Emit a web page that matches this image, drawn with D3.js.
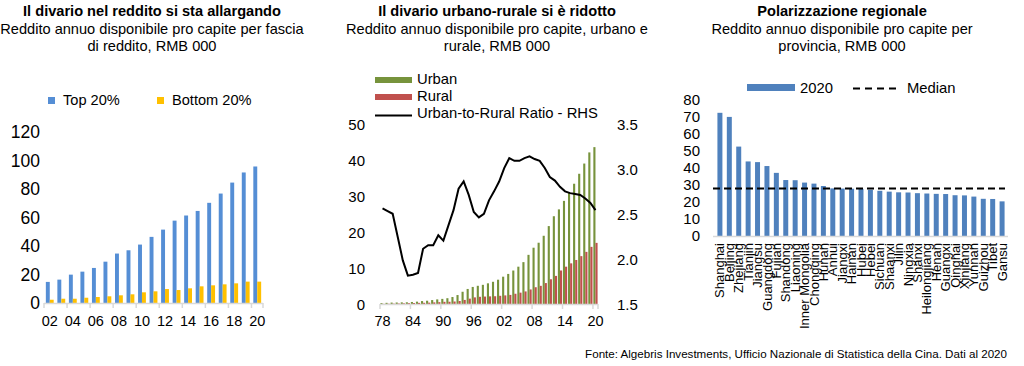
<!DOCTYPE html>
<html>
<head>
<meta charset="utf-8">
<script src="https://cdn.jsdelivr.net/npm/d3@7"></script>
<style>
  body { margin: 0; background: #fff; }
  text { font-family: Arial, "Liberation Sans", sans-serif; fill: #000; }
</style>
</head>
<body>
<svg id="chart" width="1024" height="366"></svg>
<script>
// ---- data: income by quintile (RMB 000) ----
const quintileYears = ['2002', '2003', '2004', '2005', '2006', '2007', '2008', '2009', '2010', '2011',
    '2012', '2013', '2014', '2015', '2016', '2017', '2018', '2019', '2020'];
const top20 = [14.8, 16.4, 19.9, 22.0, 24.6, 29.0, 34.7, 37.0, 41.0, 46.4,
    51.5, 57.8, 61.4, 64.6, 70.3, 76.8, 84.5, 91.6, 95.8];
const bottom20 = [2.3, 3.0, 3.0, 3.7, 4.2, 4.7, 5.4, 6.1, 7.5, 8.2,
    9.8, 9.1, 10.3, 11.7, 12.4, 13.1, 13.8, 15.0, 15.0];
const quintileTicks = [0, 20, 40, 60, 80, 100, 120];

// ---- data: urban vs rural (RMB 000) and ratio ----
const urYears = ['1978', '1979', '1980', '1981', '1982', '1983', '1984', '1985', '1986', '1987',
    '1988', '1989', '1990', '1991', '1992', '1993', '1994', '1995', '1996', '1997',
    '1998', '1999', '2000', '2001', '2002', '2003', '2004', '2005', '2006', '2007',
    '2008', '2009', '2010', '2011', '2012', '2013', '2014', '2015', '2016', '2017',
    '2018', '2019', '2020'];
const urban = [0.34, 0.41, 0.48, 0.50, 0.54, 0.56, 0.65, 0.74, 0.90, 1.00,
    1.18, 1.37, 1.51, 1.70, 2.03, 2.58, 3.50, 4.28, 4.84, 5.16,
    5.43, 5.85, 6.28, 6.86, 7.70, 8.47, 9.42, 10.49, 11.76, 13.79,
    15.78, 17.17, 19.11, 21.81, 24.56, 26.47, 28.84, 31.19, 33.62, 36.40,
    39.25, 42.36, 43.83];
const rural = [0.13, 0.16, 0.19, 0.22, 0.27, 0.31, 0.36, 0.40, 0.42, 0.46,
    0.54, 0.60, 0.69, 0.71, 0.78, 0.92, 1.22, 1.58, 1.93, 2.09,
    2.16, 2.21, 2.25, 2.37, 2.48, 2.62, 2.94, 3.25, 3.59, 4.14,
    4.76, 5.15, 5.92, 6.98, 7.92, 9.43, 10.49, 11.42, 12.36, 13.43,
    14.62, 16.02, 17.13];
const ratio = [2.57, 2.54, 2.51, 2.25, 1.99, 1.82, 1.83, 1.85, 2.12, 2.16,
    2.16, 2.27, 2.21, 2.38, 2.55, 2.79, 2.87, 2.72, 2.53, 2.47,
    2.51, 2.66, 2.76, 2.87, 3.02, 3.13, 3.10, 3.10, 3.13, 3.15,
    3.12, 3.10, 3.02, 2.92, 2.88, 2.81, 2.76, 2.74, 2.73, 2.72,
    2.68, 2.63, 2.55];
const urLeftTicks = [0, 10, 20, 30, 40, 50];
const urRightTicks = [1.5, 2.0, 2.5, 3.0, 3.5];

// ---- data: provinces 2020 (RMB 000) ----
const provinces = ['Shanghai', 'Beijing', 'Zhejiang', 'Tianjin', 'Jiangsu', 'Guangdong', 'Fujian',
    'Shandong', 'Liaoning', 'Inner Mongolia', 'Chongqing', 'Hunan', 'Anhui', 'Jiangxi', 'Hainan',
    'Hubei', 'Hebei', 'Sichuan', 'Shaanxi', 'Jilin', 'Ningxia', 'Shanxi', 'Heilongjiang', 'Henan',
    'Guangxi', 'Qinghai', 'Xinjiang', 'Yunnan', 'Guizhou', 'Tibet', 'Gansu'];
const provIncome = [72.2, 69.8, 52.4, 43.7, 43.3, 41.0, 37.0, 32.8, 32.7, 31.3, 30.7, 29.3, 27.9,
    27.8, 27.7, 27.6, 27.1, 26.5, 26.0, 25.6, 25.5, 25.1, 24.9, 24.7, 24.6, 23.9, 23.8, 23.1,
    21.8, 21.7, 20.3];
const provMedian = 27.9;
const provTicks = [0, 10, 20, 30, 40, 50, 60, 70, 80];

const svg = d3.select('#chart');
const axisGrey = '#d9d9d9';

function title(cx, lines) {
    svg.append('text').attr('x', cx).attr('y', 16).attr('text-anchor', 'middle')
        .attr('font-size', '14.6px').attr('font-weight', 'bold').text(lines[0]);
    lines.slice(1).forEach(function (l, i) {
        svg.append('text').attr('x', cx).attr('y', 34 + i * 17).attr('text-anchor', 'middle')
            .attr('font-size', '14.6px').text(l);
    });
}

// =============== chart 1 ===============
title(152, ['Il divario nel reddito si sta allargando',
    'Reddito annuo disponibile pro capite per fascia', 'di reddito, RMB 000']);

const x1 = d3.scaleBand().domain(quintileYears).range([44, 263]);
const x1s = d3.scaleBand().domain(['top', 'bottom']).range([0, x1.bandwidth()]).paddingOuter(0.47);
const y1 = d3.scaleLinear().domain([0, 120]).range([303, 132]);

const g1 = svg.append('g');
g1.selectAll('.top').data(quintileYears).enter().append('rect')
    .attr('x', (d) => x1(d) + x1s('top'))
    .attr('y', (d, i) => y1(top20[i]))
    .attr('width', x1s.bandwidth())
    .attr('height', (d, i) => y1(0) - y1(top20[i]))
    .attr('fill', '#558ed5');
g1.selectAll('.bot').data(quintileYears).enter().append('rect')
    .attr('x', (d) => x1(d) + x1s('bottom'))
    .attr('y', (d, i) => y1(bottom20[i]))
    .attr('width', x1s.bandwidth())
    .attr('height', (d, i) => y1(0) - y1(bottom20[i]))
    .attr('fill', '#ffc000');

const ya1 = g1.append('g').attr('transform', 'translate(42,0)')
    .call(d3.axisLeft(y1).tickValues(quintileTicks).tickSize(0).tickPadding(2));
ya1.select('.domain').remove();
ya1.selectAll('text').attr('font-size', '17.5px').attr('font-family', null);

// x axis
g1.append('line').attr('x1', 44).attr('x2', 263).attr('y1', 303.5).attr('y2', 303.5)
    .attr('stroke', axisGrey).attr('stroke-width', 1.5);
const x1Edges = quintileYears.filter((d, i) => i % 2 === 0).map((d) => x1(d)).concat([263]);
g1.selectAll('.tk').data(x1Edges).enter().append('line')
    .attr('x1', (d) => d).attr('x2', (d) => d).attr('y1', 303).attr('y2', 308)
    .attr('stroke', axisGrey).attr('stroke-width', 1.5);
g1.selectAll('.xl').data(quintileYears.filter((d, i) => i % 2 === 0)).enter().append('text')
    .attr('x', (d) => x1(d) + x1.bandwidth() / 2).attr('y', 326)
    .attr('text-anchor', 'middle').attr('font-size', '14.5px')
    .text((d) => d.slice(2));

// legend
g1.append('rect').attr('x', 48).attr('y', 97).attr('width', 7).attr('height', 7).attr('fill', '#558ed5');
g1.append('text').attr('x', 63).attr('y', 105).attr('font-size', '14.6px').text('Top 20%');
g1.append('rect').attr('x', 157).attr('y', 97).attr('width', 7).attr('height', 7).attr('fill', '#ffc000');
g1.append('text').attr('x', 172).attr('y', 105).attr('font-size', '14.6px').text('Bottom 20%');

// =============== chart 2 ===============
title(497, ['Il divario urbano-rurale si è ridotto',
    'Reddito annuo disponibile pro capite, urbano e', 'rurale, RMB 000']);

const x2 = d3.scaleBand().domain(urYears).range([380, 598]);
const x2s = d3.scaleBand().domain(['u', 'r']).range([0, x2.bandwidth()]).paddingOuter(0.2);
const y2 = d3.scaleLinear().domain([0, 50]).range([304.3, 125]);
const y2r = d3.scaleLinear().domain([1.5, 3.5]).range([304.3, 125]);

const g2 = svg.append('g');
g2.selectAll('.u').data(urYears).enter().append('rect')
    .attr('x', (d) => x2(d) + x2s('u'))
    .attr('y', (d, i) => y2(urban[i]))
    .attr('width', x2s.bandwidth())
    .attr('height', (d, i) => y2(0) - y2(urban[i]))
    .attr('fill', '#77933c');
g2.selectAll('.r').data(urYears).enter().append('rect')
    .attr('x', (d) => x2(d) + x2s('r'))
    .attr('y', (d, i) => y2(rural[i]))
    .attr('width', x2s.bandwidth())
    .attr('height', (d, i) => y2(0) - y2(rural[i]))
    .attr('fill', '#c0504d');

g2.append('line').attr('x1', 380).attr('x2', 598).attr('y1', 304.5).attr('y2', 304.5)
    .attr('stroke', axisGrey).attr('stroke-width', 1.5);
const x2Labels = urYears.filter((d, i) => i % 6 === 0);
g2.selectAll('.tk').data(x2Labels.map((d) => x2(d)).concat([598])).enter().append('line')
    .attr('x1', (d) => d).attr('x2', (d) => d).attr('y1', 304).attr('y2', 309)
    .attr('stroke', axisGrey).attr('stroke-width', 1.5);
g2.selectAll('.xl').data(x2Labels).enter().append('text')
    .attr('x', (d) => x2(d) + x2.bandwidth() / 2).attr('y', 326)
    .attr('text-anchor', 'middle').attr('font-size', '14.5px')
    .text((d) => d.slice(2));

const ratioLine = d3.line()
    .x((d, i) => x2(urYears[i]) + x2.bandwidth() / 2)
    .y((d) => y2r(d));
g2.append('path').datum(ratio).attr('d', ratioLine)
    .attr('fill', 'none').attr('stroke', '#000').attr('stroke-width', 2);

const ya2 = g2.append('g').attr('transform', 'translate(367,0)')
    .call(d3.axisLeft(y2).tickValues(urLeftTicks).tickSize(0).tickPadding(2));
ya2.select('.domain').remove();
ya2.selectAll('text').attr('font-size', '15px').attr('font-family', null);
const yr2 = g2.append('g').attr('transform', 'translate(615,0)')
    .call(d3.axisRight(y2r).tickValues(urRightTicks).tickSize(0).tickPadding(2).tickFormat(d3.format('.1f')));
yr2.select('.domain').remove();
yr2.selectAll('text').attr('font-size', '15px').attr('font-family', null);

// legend
g2.append('rect').attr('x', 375).attr('y', 77).attr('width', 37).attr('height', 6).attr('fill', '#77933c');
g2.append('text').attr('x', 417).attr('y', 84).attr('font-size', '14.8px').text('Urban');
g2.append('rect').attr('x', 375).attr('y', 94).attr('width', 37).attr('height', 6).attr('fill', '#c0504d');
g2.append('text').attr('x', 417).attr('y', 101).attr('font-size', '14.8px').text('Rural');
g2.append('line').attr('x1', 375).attr('x2', 412).attr('y1', 115.5).attr('y2', 115.5)
    .attr('stroke', '#000').attr('stroke-width', 2);
g2.append('text').attr('x', 417).attr('y', 118).attr('font-size', '14.8px').text('Urban-to-Rural Ratio - RHS');

// =============== chart 3 ===============
title(842, ['Polarizzazione regionale',
    'Reddito annuo disponibile pro capite per', 'provincia, RMB 000']);

const x3 = d3.scaleBand().domain(provinces).range([713, 1009]).padding(0.47);
const y3 = d3.scaleLinear().domain([0, 80]).range([236, 99.5]);

const g3 = svg.append('g');
g3.selectAll('.b').data(provinces).enter().append('rect')
    .attr('x', (d) => x3(d))
    .attr('y', (d, i) => y3(provIncome[i]))
    .attr('width', x3.bandwidth())
    .attr('height', (d, i) => y3(0) - y3(provIncome[i]))
    .attr('fill', '#4f81bd');

g3.append('line').attr('x1', 713).attr('x2', 1008).attr('y1', 236.5).attr('y2', 236.5)
    .attr('stroke', axisGrey).attr('stroke-width', 1.5);
g3.append('line').attr('x1', 713).attr('x2', 1005).attr('y1', y3(provMedian)).attr('y2', y3(provMedian))
    .attr('stroke', '#000').attr('stroke-width', 2).attr('stroke-dasharray', '7,4');

const ya3 = g3.append('g').attr('transform', 'translate(702,0)')
    .call(d3.axisLeft(y3).tickValues(provTicks).tickSize(0).tickPadding(2));
ya3.select('.domain').remove();
ya3.selectAll('text').attr('font-size', '15px').attr('font-family', null);

g3.selectAll('.pl').data(provinces).enter().append('text')
    .attr('transform', (d) => 'translate(' + (x3(d) + x3.bandwidth() / 2) + ',243) rotate(-90)')
    .attr('dy', '0.35em').attr('text-anchor', 'end').attr('font-size', '13px')
    .text((d) => d);

// legend
g3.append('rect').attr('x', 747).attr('y', 84).attr('width', 48).attr('height', 7).attr('fill', '#4f81bd');
g3.append('text').attr('x', 800).attr('y', 93).attr('font-size', '14.8px').text('2020');
g3.append('line').attr('x1', 853).attr('x2', 901).attr('y1', 88.5).attr('y2', 88.5)
    .attr('stroke', '#000').attr('stroke-width', 2).attr('stroke-dasharray', '7,5');
g3.append('text').attr('x', 907).attr('y', 93).attr('font-size', '14.8px').text('Median');

// source
svg.append('text').attr('x', 1007).attr('y', 358).attr('text-anchor', 'end')
    .attr('font-size', '11.6px')
    .text('Fonte: Algebris Investments, Ufficio Nazionale di Statistica della Cina. Dati al 2020');
</script>
</body>
</html>
